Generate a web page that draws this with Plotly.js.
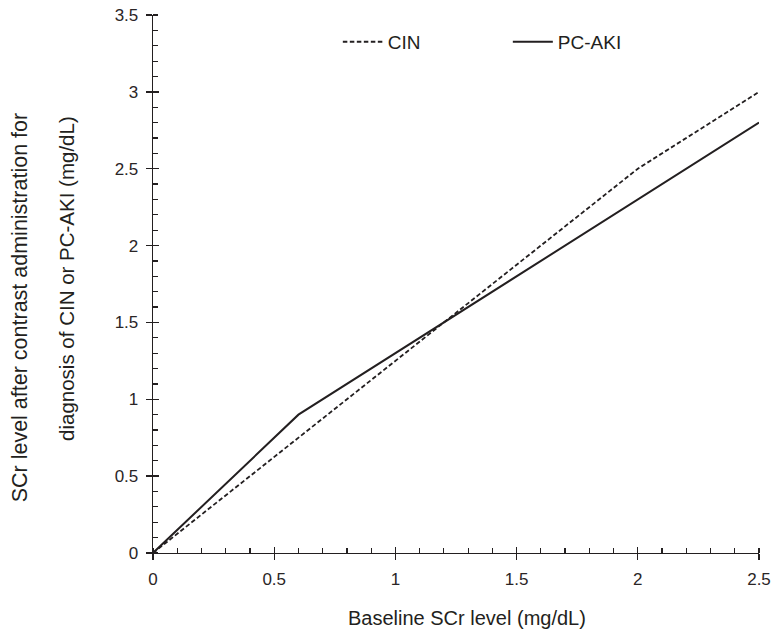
<!DOCTYPE html>
<html>
<head>
<meta charset="utf-8">
<script src="https://cdn.plot.ly/plotly-3.0.1.min.js"></script>
<style>html,body{margin:0;padding:0;background:#fff;}#chart{width:773px;height:630px;}</style>
</head>
<body>
<div id="chart"></div>
<script>
// Data
const cinX = [0, 2, 2.5];
const cinY = [0, 2.5, 3.0];
const pcakiX = [0, 0.6, 2.5];
const pcakiY = [0, 0.9, 2.8];
const seriesNames = ["CIN", "PC-AKI"];
const xTitle = "Baseline SCr level (mg/dL)";
const yTitleLine1 = "SCr level after contrast administration for";
const yTitleLine2 = "diagnosis of CIN or PC-AKI (mg/dL)";

const ink = "#231f20";
const font = "Liberation Sans, Arial, sans-serif";

const traces = [
  {x: cinX, y: cinY, name: seriesNames[0], mode: "lines", type: "scatter",
   line: {color: ink, width: 1.8, dash: "4.5px,2.5px"}},
  {x: pcakiX, y: pcakiY, name: seriesNames[1], mode: "lines", type: "scatter",
   line: {color: ink, width: 2}},
  {x: [0], y: [0], xaxis: "x2", yaxis: "y2", mode: "markers", marker: {opacity: 0}, showlegend: false, hoverinfo: "skip"}
];

const axisCommon = {
  automargin: false,
  showgrid: false, zeroline: false, showline: true, linecolor: ink, linewidth: 1.3,
  tickcolor: ink, tickwidth: 1.3, ticklen: 6, ticks: "outside",
  tickfont: {family: font, size: 17, color: "#2a2526"}
};

const layout = {
  width: 773, height: 630,
  margin: {l: 153, r: 14, t: 15, b: 77},
  paper_bgcolor: "#fff", plot_bgcolor: "#fff",
  font: {family: font, color: ink},
  showlegend: true,
  legend: {orientation: "h", x: 0.305, y: 0.95, xanchor: "left", yanchor: "middle",
           font: {family: font, size: 19, color: ink}, itemwidth: 40, entrywidth: 115, entrywidthmode: "pixels",
           bgcolor: "rgba(0,0,0,0)"},
  xaxis: Object.assign({}, axisCommon, {
    range: [0, 2.5], dtick: 0.5, tick0: 0, ticklabelstandoff: 4,
    minor: {dtick: 0.1, ticks: "inside", ticklen: 5, tickcolor: ink, tickwidth: 1.2}
  }),
  yaxis: Object.assign({}, axisCommon, {
    range: [0, 3.5], dtick: 0.5, tick0: 0, ticklabelstandoff: 4,
    minor: {dtick: 0.1, ticks: "inside", ticklen: 5, tickcolor: ink, tickwidth: 1.2}
  }),
  xaxis2: {overlaying: "x", matches: "x", range: [0, 2.5], dtick: 0.5, tick0: 0, ticks: "inside", ticklen: 6,
           tickcolor: ink, tickwidth: 1.3, showticklabels: false, showgrid: false, zeroline: false, showline: false},
  yaxis2: {overlaying: "y", matches: "y", range: [0, 3.5], dtick: 0.5, tick0: 0, ticks: "inside", ticklen: 6,
           tickcolor: ink, tickwidth: 1.3, showticklabels: false, showgrid: false, zeroline: false, showline: false},
  annotations: [
    {text: xTitle, xref: "paper", yref: "paper", x: 0.518, y: -0.121, showarrow: false,
     font: {family: font, size: 20, color: ink}, xanchor: "center", yanchor: "middle"},
    {text: yTitleLine1, xref: "paper", yref: "paper", x: -0.22, y: 0.456, textangle: -90,
     showarrow: false, font: {family: font, size: 21.5, color: ink}, xanchor: "center", yanchor: "middle"},
    {text: yTitleLine2, xref: "paper", yref: "paper", x: -0.143, y: 0.51, textangle: -90,
     showarrow: false, font: {family: font, size: 20.5, color: ink}, xanchor: "center", yanchor: "middle"}
  ]
};

Plotly.newPlot("chart", traces, layout, {displayModeBar: false, staticPlot: true});
</script>
</body>
</html>
